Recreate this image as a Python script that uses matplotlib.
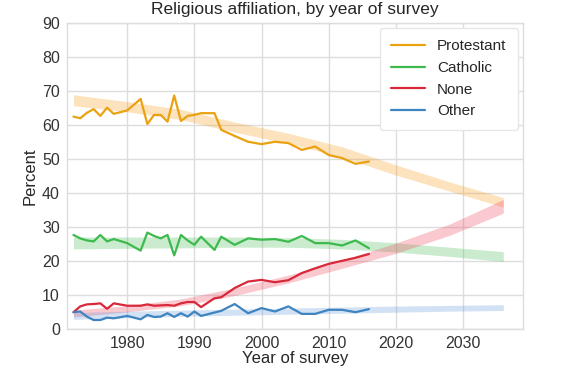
import numpy as np
import matplotlib
matplotlib.use("Agg")
import matplotlib.pyplot as plt

# Survey years (GSS)
years = [1972, 1973, 1974, 1975, 1976, 1977, 1978, 1980, 1982, 1983, 1984,
         1985, 1986, 1987, 1988, 1989, 1990, 1991, 1993, 1994, 1996, 1998,
         2000, 2002, 2004, 2006, 2008, 2010, 2012, 2014, 2016]

protestant = [62.4, 61.9, 63.5, 64.6, 62.6, 65.0, 63.2, 64.2, 67.6, 60.2, 62.9,
              62.9, 60.9, 68.6, 61.1, 62.6, 62.9, 63.4, 63.4, 58.5, 56.7, 55.0,
              54.3, 55.0, 54.6, 52.6, 53.6, 51.1, 50.2, 48.5, 49.2]
catholic = [27.6, 26.6, 26.0, 25.7, 27.6, 25.7, 26.4, 25.2, 23.0, 28.3, 27.3,
            26.6, 27.6, 21.6, 27.6, 26.0, 24.7, 27.1, 23.2, 27.1, 24.7, 26.6,
            26.2, 26.4, 25.6, 27.3, 25.2, 25.2, 24.5, 26.0, 23.7]
none = [4.9, 6.6, 7.2, 7.3, 7.5, 5.9, 7.5, 6.8, 6.8, 7.2, 6.8,
        6.9, 7.0, 6.8, 7.5, 7.9, 7.9, 6.4, 9.0, 9.3, 12.0, 13.9,
        14.4, 13.7, 14.3, 16.4, 17.8, 19.1, 20.0, 20.9, 22.0]
other = [4.9, 5.1, 3.6, 2.6, 2.6, 3.3, 3.1, 3.8, 2.8, 4.1, 3.5,
         3.6, 4.6, 3.5, 4.6, 3.6, 5.1, 3.8, 4.8, 5.3, 7.3, 4.6,
         6.1, 5.1, 6.6, 4.4, 4.4, 5.6, 5.6, 4.9, 5.8]

# Fitted / predicted bands
band_years = [1972, 1980, 1988, 1996, 2004, 2012, 2020, 2028, 2036]
prot_low = [65.6, 63.8, 61.5, 57.8, 54.5, 50.5, 45.2, 40.5, 35.8]
prot_high = [68.8, 66.8, 64.5, 60.8, 57.5, 53.5, 48.2, 43.2, 38.6]
cath_low = [23.5, 23.7, 23.8, 24.0, 24.0, 23.5, 22.6, 21.3, 19.8]
cath_high = [27.0, 27.0, 27.0, 27.0, 26.8, 26.3, 25.3, 24.0, 22.7]
none_low = [3.5, 5.0, 6.8, 9.8, 13.5, 17.8, 22.2, 27.5, 34.0]
none_high = [5.5, 6.8, 8.8, 12.0, 15.8, 20.2, 25.2, 30.8, 38.0]
other_low = [2.8, 3.3, 3.7, 4.0, 4.3, 4.6, 4.9, 5.2, 5.4]
other_high = [4.8, 5.2, 5.5, 5.8, 6.1, 6.4, 6.7, 6.9, 7.1]

plt.style.use('seaborn-v0_8-whitegrid')
plt.rcParams['font.family'] = ['Liberation Sans', 'DejaVu Sans']

fig = plt.figure(figsize=(5.61, 3.78), dpi=100)
ax = fig.add_axes([0.119, 0.130, 0.814, 0.810])

series = [
    ('Protestant', protestant, prot_low, prot_high, '#EAA210', '#F9A02A'),
    ('Catholic', catholic, cath_low, cath_high, '#3DBA4E', '#55C060'),
    ('None', none, none_low, none_high, '#D8283A', '#F04A60'),
    ('Other', other, other_low, other_high, '#3E84C0', '#6A9EDC'),
]

for label, vals, lo, hi, lc, bc in series:
    ax.fill_between(band_years, lo, hi, color=bc, alpha=0.3, linewidth=0)
    ax.plot(years, vals, color=lc, linewidth=1.6, label=label)

ax.set_xlim(1971, 2039)
ax.set_ylim(0, 90)
ax.set_xticks([1980, 1990, 2000, 2010, 2020, 2030])
ax.set_yticks(np.arange(0, 91, 10))
ax.tick_params(labelsize=11.5, colors='#333333', pad=5)
for s in ax.spines.values():
    s.set_visible(True)
    s.set_color('#dddddd')
ax.grid(color='#dddddd', linewidth=1)

ax.set_title('Religious affiliation, by year of survey', fontsize=12.5,
             color='#262626', pad=6)
ax.set_xlabel('Year of survey', fontsize=12, color='#262626', labelpad=0)
ax.set_ylabel('Percent', fontsize=12, color='#262626', labelpad=3)
leg = ax.legend(loc='upper right', fontsize=11, frameon=True, handlelength=2.2,
                borderpad=0.75, labelspacing=0.5, handletextpad=0.8,
                borderaxespad=0.35)
leg.get_frame().set_edgecolor('#e6e6e6')
leg.get_frame().set_facecolor('white')
leg.get_frame().set_alpha(1)

fig.savefig('out.png', dpi=100)
